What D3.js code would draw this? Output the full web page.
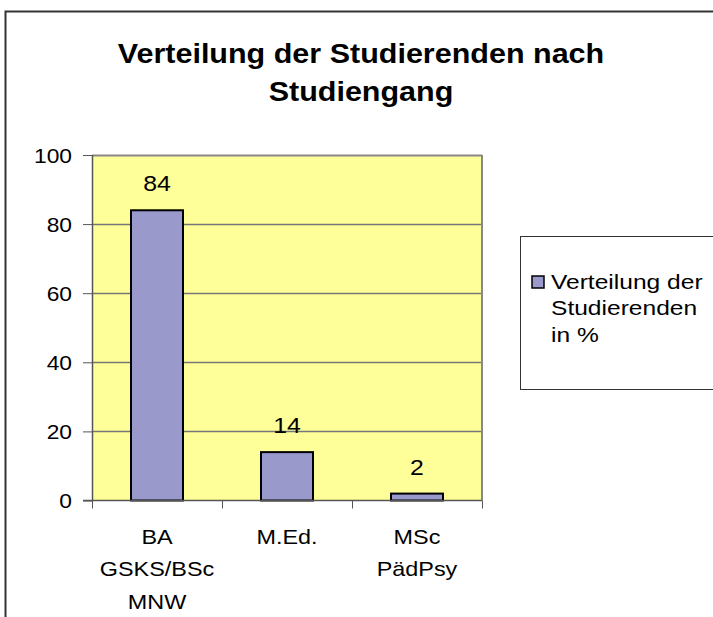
<!DOCTYPE html>
<html>
<head>
<meta charset="utf-8">
<script src="https://cdn.jsdelivr.net/npm/d3@7"></script>
<style>
  body { margin: 0; background: #fff; }
  text { font-family: "Liberation Sans", Arial, sans-serif; fill: #000; }
</style>
</head>
<body>
<div id="target"></div>
<script>
const categories = [['BA', 'GSKS/BSc', 'MNW'], ['M.Ed.'], ['MSc', 'PädPsy']];
const values = [84, 14, 2];
const yTicks = [0, 20, 40, 60, 80, 100];
const titleLines = ['Verteilung der Studierenden nach', 'Studiengang'];
const legendLines = ['Verteilung der', 'Studierenden', 'in %'];

const width = 713;
const height = 617;
const plot = {left: 92, top: 155, right: 482, bottom: 500.5};
// the source picture is a bit stretched sideways
const stretch = 1.16;

const svg = d3.select('#target')
  .append('svg')
  .attr('width', width)
  .attr('height', height);

// puts a horizontally stretched label at (px, py)
function label(parent, px, py, txt, size, anchor, sx) {
  return parent.append('g')
    .attr('transform', `translate(${px},${py}) scale(${sx || stretch},1)`)
    .append('text')
    .attr('text-anchor', anchor)
    .style('font-size', size + 'px')
    .text(txt);
}

// outer frame (runs off the right and bottom edge)
svg.append('path')
  .attr('d', `M5.5,${height + 5} V11.5 H${width + 5}`)
  .attr('fill', 'none')
  .attr('stroke', '#333')
  .attr('stroke-width', 2);

titleLines.forEach((t, i) => {
  label(svg, 361, 63 + i * 38, t, 27, 'middle', 1.13).style('font-weight', 'bold');
});

const x = d3.scaleBand()
  .domain(d3.range(categories.length))
  .range([plot.left, plot.right]);

const y = d3.scaleLinear()
  .domain([0, 100])
  .range([plot.bottom, plot.top]);

const g = svg.append('g');

g.append('rect')
  .attr('x', plot.left)
  .attr('y', plot.top)
  .attr('width', plot.right - plot.left)
  .attr('height', plot.bottom - plot.top)
  .attr('fill', '#ffff99');

// gridlines
g.append('g')
  .selectAll('line')
  .data(yTicks.filter(d => d > 0))
  .enter()
  .append('line')
  .attr('x1', plot.left)
  .attr('x2', plot.right)
  .attr('y1', d => Math.round(y(d)) + 0.5)
  .attr('y2', d => Math.round(y(d)) + 0.5)
  .attr('stroke', d => d === 100 ? '#888' : '#777')
  .attr('stroke-width', d => d === 100 ? 2 : 1.5);

g.append('line')
  .attr('x1', plot.right)
  .attr('x2', plot.right)
  .attr('y1', plot.top)
  .attr('y2', plot.bottom)
  .attr('stroke', '#888')
  .attr('stroke-width', 2);

const barW = 52;
g.append('g')
  .selectAll('rect')
  .data(values)
  .enter()
  .append('rect')
  .attr('x', (d, i) => x(i) + x.bandwidth() / 2 - barW / 2)
  .attr('y', d => y(d))
  .attr('width', barW)
  .attr('height', d => y(0) - y(d))
  .attr('fill', '#9999cc')
  .attr('stroke', '#000')
  .attr('stroke-width', 2);

values.forEach((v, i) => {
  label(g, x(i) + x.bandwidth() / 2, y(v) - 19, v, 22, 'middle', 1.13);
});

// y axis
const yAxis = g.append('g')
  .attr('transform', `translate(${plot.left},0)`)
  .call(d3.axisLeft(y).tickValues(yTicks).tickSize(9).tickPadding(10));
yAxis.selectAll('text')
  .style('font-size', '20px')
  .attr('dy', '0.36em')
  .attr('x', -20 / 1.14)
  .attr('transform', 'scale(1.14,1)');
yAxis.selectAll('line, path').attr('stroke', '#555');
yAxis.select('.domain').attr('d', `M0.5,${plot.top}V${plot.bottom}`).attr('stroke-width', 1.5);

// x axis
const xAxis = g.append('g')
  .attr('transform', `translate(0,${plot.bottom})`);
xAxis.append('line')
  .attr('x1', plot.left - 9)
  .attr('x2', plot.right)
  .attr('stroke', '#555')
  .attr('stroke-width', 1.5);
xAxis.selectAll('.tick')
  .data(d3.range(categories.length + 1))
  .enter()
  .append('line')
  .attr('x1', d => Math.round(d < categories.length ? x(d) : plot.right) + 0.5)
  .attr('x2', d => Math.round(d < categories.length ? x(d) : plot.right) + 0.5)
  .attr('y1', 0)
  .attr('y2', 8)
  .attr('stroke', '#555');

categories.forEach((lines, i) => {
  lines.forEach((t, j) => {
    label(xAxis, x(i) + x.bandwidth() / 2, 43 + j * 32.5, t, 20, 'middle', 1.17);
  });
});

// legend
const legend = svg.append('g');
legend.append('rect')
  .attr('x', 520.5)
  .attr('y', 236.5)
  .attr('width', 200)
  .attr('height', 153)
  .attr('fill', '#fff')
  .attr('stroke', '#333')
  .attr('stroke-width', 1);
legend.append('rect')
  .attr('x', 532)
  .attr('y', 276)
  .attr('width', 12)
  .attr('height', 12)
  .attr('fill', '#9999cc')
  .attr('stroke', '#000')
  .attr('stroke-width', 1.5);
legendLines.forEach((t, i) => {
  label(legend, 551, 288.5 + i * 26.5, t, 19.5, 'start', 1.26);
});
</script>
</body>
</html>
